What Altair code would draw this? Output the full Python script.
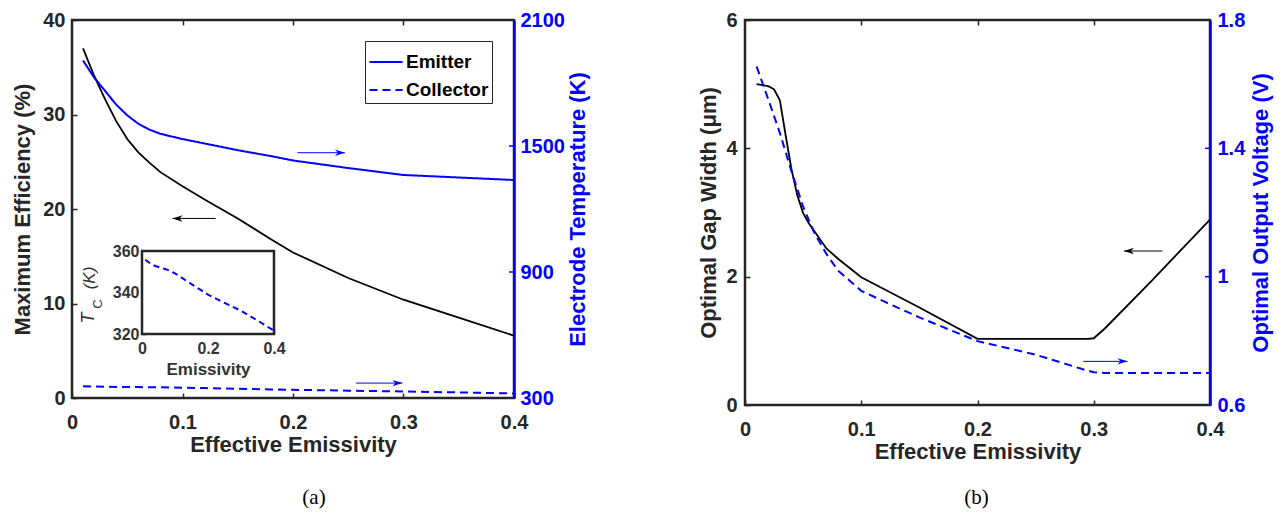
import altair as alt
import pandas as pd

# ---------------- Panel (a) data ----------------
eps_a = [0.01, 0.02, 0.03, 0.04, 0.05, 0.06, 0.07, 0.08, 0.10, 0.12, 0.15, 0.18, 0.20, 0.25, 0.30, 0.35, 0.40]
eff_max = [37.0, 34.1, 31.6, 29.3, 27.4, 26.0, 24.9, 23.9, 22.4, 21.0, 19.0, 16.8, 15.4, 12.7, 10.4, 8.5, 6.6]
t_emitter = [1907, 1826, 1762, 1697, 1646, 1606, 1578, 1558, 1533, 1512, 1480, 1452, 1431, 1395, 1362, 1350, 1338]
t_collector = [355.8, 354.6, 353.5, 352.8, 352.3, 351.8, 351.3, 350.8, 349.2, 347.2, 344.0, 341.0, 339.0, 335.0, 331.2, 326.5, 321.6]
series_names = ["Emitter", "Collector"]

# ---------------- Panel (b) data ----------------
eps_gap = [0.01, 0.02, 0.025, 0.03, 0.035, 0.04, 0.045, 0.05, 0.055, 0.06, 0.07, 0.08, 0.10, 0.15, 0.20, 0.25, 0.295, 0.30, 0.31, 0.35, 0.40]
gap_width = [5.0, 4.97, 4.92, 4.75, 4.2, 3.67, 3.27, 2.99, 2.83, 2.70, 2.44, 2.28, 1.99, 1.52, 1.03, 1.03, 1.03, 1.04, 1.2, 1.94, 2.89]
eps_volt = [0.01, 0.02, 0.03, 0.04, 0.05, 0.06, 0.07, 0.08, 0.10, 0.12, 0.15, 0.20, 0.25, 0.29, 0.30, 0.31, 0.35, 0.40]
volt = [1.655, 1.553, 1.448, 1.328, 1.218, 1.134, 1.071, 1.019, 0.956, 0.922, 0.873, 0.799, 0.757, 0.712, 0.702, 0.700, 0.700, 0.700]

# ---------------- ticks ----------------
x_ticks = [0, 0.1, 0.2, 0.3, 0.4]
x_inner_ticks = [0.1, 0.2, 0.3]
eff_ticks = [0, 10, 20, 30, 40]
temp_ticks = [300, 900, 1500, 2100]
temp_inner = [900, 1500]
inset_x_ticks = [0, 0.2, 0.4]
inset_y_ticks = [320, 340, 360]
gap_ticks = [0, 2, 4, 6]
volt_ticks = [0.6, 1.0, 1.4, 1.8]
volt_inner = [1.0, 1.4]

# ---------------- arrows (data units) ----------------
arrow_a_eff = {"x0": [0.130], "x1": [0.091], "y": [19.0]}
arrow_a_temp = {"x0": [0.204, 0.257], "x1": [0.247, 0.299], "y": [1468, 371]}
arrow_b_gap = {"x0": [0.359], "x1": [0.326], "y": [2.40]}
arrow_b_volt = {"x0": [0.291], "x1": [0.329], "y": [0.736]}

BLUE = "#0000FF"
DARK = "#262626"
FONT = "Liberation Sans"
W_A, H_A = 442, 378
W_B, H_B = 465, 385
HEAD_R = "M0,0L-1,-0.32L-0.7,0L-1,0.32Z"
HEAD_L = "M0,0L1,-0.32L0.7,0L1,0.32Z"

xscale = alt.Scale(domain=[0, 0.4], nice=False, zero=False)


def x_bottom(field):
    return alt.X(field, type="quantitative", scale=xscale,
                 axis=alt.Axis(values=x_ticks, format="~g", title="Effective Emissivity",
                               orient="bottom", offset=-5, labelFlush=False,
                               labelPadding=14, titlePadding=2))


def x_top(field):
    return alt.X(field, type="quantitative", scale=xscale,
                 axis=alt.Axis(values=x_inner_ticks, labels=False, title=None,
                               orient="top", offset=-5))


def arrow_layers(d, xenc, yenc, color, head):
    df = pd.DataFrame(d)
    shaft = alt.Chart(df).mark_rule(color=color, strokeWidth=1).encode(
        x=xenc("x0"), x2="x1", y=yenc("y"))
    tip = alt.Chart(df).mark_point(shape=head, size=400, filled=True, color=color,
                                   opacity=1, strokeWidth=0).encode(
        x=xenc("x1"), y=yenc("y"))
    return [shaft, tip]


# ================= Panel (a) =================
df_eff = pd.DataFrame({"eps": eps_a, "eff": eff_max})
df_temp = pd.DataFrame({
    "eps": eps_a + eps_a,
    "T": t_emitter + t_collector,
    "series": [series_names[0]] * len(eps_a) + [series_names[1]] * len(eps_a),
})
df_coll = pd.DataFrame({"eps": eps_a, "Tc": t_collector})


def y_eff(field):
    return alt.Y(field, type="quantitative",
                 scale=alt.Scale(domain=[0, 40], nice=False),
                 axis=alt.Axis(values=eff_ticks, title="Maximum Efficiency (%)",
                               offset=-5, labelPadding=7, titlePadding=8))


def y_temp(field):
    return alt.Y(field, type="quantitative",
                 scale=alt.Scale(domain=[300, 2100], nice=False, zero=False),
                 axis=alt.Axis(values=temp_ticks, orient="right", format="d",
                               title="Electrode Temperature (K)",
                               titleAngle=270, titleBaseline="top",
                               labelColor=BLUE, titleColor=BLUE, domain=True,
                               domainColor=BLUE, domainWidth=2.5, ticks=False,
                               labelPadding=6, titlePadding=3))


eff_line = alt.Chart(df_eff).mark_line(color="black", strokeWidth=1.8).encode(
    x=x_bottom("eps"), y=y_eff("eff"))
main_a = alt.layer(eff_line, *arrow_layers(arrow_a_eff, x_bottom, y_eff, "black", HEAD_L))

temp_lines = alt.Chart(df_temp).mark_line(color=BLUE, strokeWidth=2).encode(
    x=x_top("eps"), y=y_temp("T"),
    strokeDash=alt.StrokeDash(
        "series:N",
        scale=alt.Scale(domain=series_names, range=[[1, 0], [8, 5]]),
        legend=alt.Legend(title=None, orient="none", legendX=293, legendY=21,
                          symbolType="stroke", symbolStrokeColor=BLUE,
                          symbolStrokeWidth=2, symbolSize=1100,
                          labelFont=FONT, labelFontSize=19, labelFontWeight="bold",
                          labelColor="black", strokeColor=DARK, fillColor="white",
                          padding=3, rowPadding=0, labelOffset=2)),
)
df_rt_a = pd.DataFrame({"T": temp_inner})
rticks_a = alt.Chart(df_rt_a).mark_rule(color=BLUE, strokeWidth=1.5).encode(
    y=y_temp("T"), x=alt.value(W_A - 5), x2=alt.value(W_A))
temp_a = alt.layer(temp_lines, rticks_a,
                   *arrow_layers(arrow_a_temp, x_top, y_temp, BLUE, HEAD_R))

# inset
inset_x = alt.Scale(domain=[0, 0.4], range=[70, 202], nice=False, zero=False)
inset_y = alt.Scale(domain=[320, 360], range=[314, 231], nice=False, zero=False)


def x_inset(field):
    return alt.X(field, type="quantitative", scale=inset_x,
                 axis=alt.Axis(values=inset_x_ticks, format="~g", title="Emissivity",
                               orient="bottom", offset=-(H_A - 314) - 4, tickSize=4,
                               labelFlush=False, labelFontSize=16, titleFontSize=17,
                               labelPadding=6, titlePadding=5, labelColor="#333333",
                               titleColor="#333333"))


def y_inset(field):
    return alt.Y(field, type="quantitative", scale=inset_y,
                 axis=alt.Axis(values=inset_y_ticks, title=None, orient="left",
                               offset=-74, tickSize=4, labelFontSize=16,
                               labelPadding=3, labelColor="#333333"))


df_box = pd.DataFrame({"x0": [inset_x_ticks[0]], "x1": [inset_x_ticks[-1]],
                       "y0": [inset_y_ticks[0]], "y1": [inset_y_ticks[-1]]})
inset_box = alt.Chart(df_box).mark_rect(fill="white", stroke=DARK, strokeWidth=2.5).encode(
    x=x_inset("x0"), x2="x1", y=y_inset("y0"), y2="y1")
inset_line = alt.Chart(df_coll).mark_line(color=BLUE, strokeWidth=2, strokeDash=[6, 4]).encode(
    x=x_inset("eps"), y=y_inset("Tc"))


def label_text(txt, px, py, size, style):
    return alt.Chart(pd.DataFrame({"t": [txt]})).mark_text(
        angle=270, font=FONT, fontSize=size, fontStyle=style, color="#333333",
        align="center", baseline="middle").encode(
        text="t:N", x=alt.value(px), y=alt.value(py))


tc_t = label_text("T", 17, 298, 18, "italic")
tc_c = label_text("C", 26, 284, 13, "normal")
tc_k = label_text("(K)", 18, 258, 17, "italic")
inset_a = alt.layer(inset_box, inset_line, tc_t, tc_c, tc_k)

panel_a = alt.layer(main_a, temp_a, inset_a).resolve_scale(
    x="independent", y="independent").properties(
    width=W_A, height=H_A,
    title=alt.TitleParams("(a)", orient="bottom", font="Liberation Serif", fontSize=21,
                          fontWeight="normal", color="black", offset=32, dx=21))

# ================= Panel (b) =================
df_gap = pd.DataFrame({"eps": eps_gap, "gap": gap_width})
df_volt = pd.DataFrame({"eps": eps_volt, "V": volt})


def y_gap(field):
    return alt.Y(field, type="quantitative",
                 scale=alt.Scale(domain=[0, 6], nice=False),
                 axis=alt.Axis(values=gap_ticks, title="Optimal Gap Width (μm)",
                               offset=-5, labelPadding=8, titlePadding=5))


def y_volt(field):
    return alt.Y(field, type="quantitative",
                 scale=alt.Scale(domain=[0.6, 1.8], nice=False, zero=False),
                 axis=alt.Axis(values=volt_ticks, orient="right", format="~g",
                               title="Optimal Output Voltage (V)",
                               titleAngle=270, titleBaseline="top",
                               labelColor=BLUE, titleColor=BLUE, domain=True,
                               domainColor=BLUE, domainWidth=2.5, ticks=False,
                               labelPadding=7, titlePadding=6))


gap_line = alt.Chart(df_gap).mark_line(color="black", strokeWidth=1.8).encode(
    x=x_bottom("eps"), y=y_gap("gap"))
main_b = alt.layer(gap_line, *arrow_layers(arrow_b_gap, x_bottom, y_gap, "black", HEAD_L))

volt_line = alt.Chart(df_volt).mark_line(color=BLUE, strokeWidth=2, strokeDash=[8, 5]).encode(
    x=x_top("eps"), y=y_volt("V"))
rticks_b = alt.Chart(pd.DataFrame({"V": volt_inner})).mark_rule(color=BLUE, strokeWidth=1.5).encode(
    y=y_volt("V"), x=alt.value(W_B - 5), x2=alt.value(W_B))
volt_b = alt.layer(volt_line, rticks_b,
                   *arrow_layers(arrow_b_volt, x_top, y_volt, BLUE, HEAD_R))

panel_b = alt.layer(main_b, volt_b).resolve_scale(
    x="independent", y="independent").properties(
    width=W_B, height=H_B,
    title=alt.TitleParams("(b)", orient="bottom", font="Liberation Serif", fontSize=21,
                          fontWeight="normal", color="black", offset=25, dx=-1))

chart = alt.hconcat(panel_a, panel_b, spacing=106).properties(
    padding={"left": 2, "top": 0, "right": 0, "bottom": 0}
).configure_view(
    stroke=DARK, strokeWidth=2.5
).configure_axis(
    labelFont=FONT, labelFontSize=20, labelFontWeight="bold", labelColor=DARK,
    titleFont=FONT, titleFontSize=22, titleFontWeight="bold", titleColor=DARK,
    grid=False, domain=False, tickSize=5, tickColor=DARK, tickWidth=1.5,
    labelPadding=10, titlePadding=6
)

chart.save("out.html", embed_options={"renderer": "svg", "actions": False})
